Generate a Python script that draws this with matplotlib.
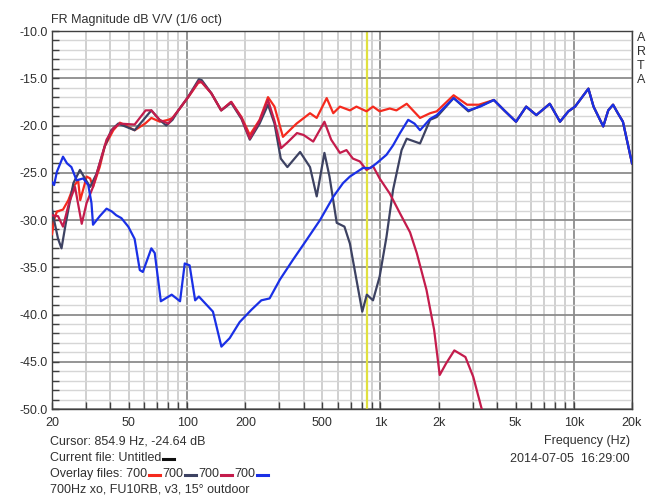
import matplotlib
matplotlib.use("Agg")
import matplotlib.pyplot as plt
from matplotlib.lines import Line2D
from matplotlib.ticker import FixedLocator, NullFormatter

plt.rcParams['font.family'] = ['Liberation Sans', 'DejaVu Sans']

# shared high frequency part (all curves meet above ~3.5k)
top_f = [3860, 4366, 5025, 5671, 6400, 7513, 8482, 9377, 10150, 11900,
         12650, 14200, 15070, 15960, 16900, 17950, 20000]
top_db = [-17.3, -18.4, -19.6, -18.0, -18.9, -17.7, -19.6, -18.5, -18.0, -16.1,
          -18.0, -20.1, -18.4, -17.8, -18.7, -19.6, -24.0]

# red: full system
red_f = [20, 20.5, 21.2, 22.8, 24.3, 25.8, 27.3, 28.0, 29.6, 30.2, 31.5, 32.6,
         35.3, 37.5, 41.5, 44.9, 48, 53.5, 60.6, 65.3, 72.3, 79.9, 84, 90.2,
         101.4, 114, 118.5, 133.5, 150, 169, 191, 211, 237, 262, 283, 313, 368,
         432, 468, 527, 570, 617, 695, 751, 847, 915, 990, 1117, 1209, 1367,
         1602, 1806, 1955, 2390, 2806, 3228]
red_db = [-31.5, -30.0, -29.1, -28.9, -27.9, -26.5, -25.8, -27.9, -26.1, -25.4,
          -25.6, -26.5, -24.4, -22.2, -20.5, -19.7, -20.0, -20.5, -19.8, -19.2,
          -19.6, -19.4, -19.2, -18.4, -17.0, -15.5, -15.4, -16.6, -18.4, -17.5,
          -19.1, -21.0, -19.4, -17.0, -18.0, -21.2, -19.8, -18.7, -19.2, -17.1,
          -18.7, -18.0, -18.4, -18.0, -18.5, -18.0, -18.5, -18.2, -18.4, -17.7,
          -19.2, -18.7, -18.5, -16.8, -17.8, -17.8]

# navy: reversed polarity sum
navy_f = [20, 20.5, 21.5, 22.4, 23.5, 24.5, 25.8, 27.9, 29.6, 31.5, 34, 37.5,
          40.5, 44, 53.5, 60, 65.3, 72, 78, 84, 90, 101, 115, 119, 133.5, 150,
          169, 191, 211, 237, 262, 283, 305, 330, 384, 432, 468, 513, 545, 594,
          651, 695, 751, 805, 850, 915, 990, 1074, 1162, 1286, 1367, 1602,
          1806, 1955, 2390, 2850, 3228]
navy_db = [-28.9, -30.0, -32.0, -33.0, -30.5, -28.5, -26.1, -24.7, -25.6, -26.5,
           -25.1, -22.2, -20.5, -19.8, -20.5, -19.3, -18.4, -19.4, -20.0, -19.4,
           -18.4, -17.0, -15.1, -15.2, -16.6, -18.4, -17.6, -19.3, -21.5, -19.8,
           -17.8, -19.8, -23.5, -24.4, -22.8, -24.4, -27.5, -22.9, -25.4, -30.3,
           -30.7, -32.5, -36.3, -39.7, -37.9, -38.5, -36.0, -31.8, -26.8, -22.6,
           -21.4, -21.9, -19.4, -19.1, -17.1, -18.5, -18.0]

# crimson: woofer
woof_f = [20, 21.5, 22.8, 24.5, 26.3, 28.5, 30.2, 32.6, 35.3, 38.3, 41.5, 44.9,
          53.5, 61, 65.3, 72, 80, 90, 101, 115, 119, 133.5, 150, 169, 191, 211,
          237, 262, 283, 306, 330, 370, 400, 449, 513, 556, 617, 667, 720, 782,
          847, 915, 990, 1117, 1262, 1422, 1541, 1730, 1894, 2025, 2182, 2410,
          2750, 3020, 3320, 3400]
woof_db = [-29.5, -29.6, -30.7, -28.2, -26.5, -30.4, -28.2, -26.5, -24.0, -21.5,
           -20.3, -19.8, -19.9, -18.4, -18.4, -19.4, -19.8, -18.4, -17.0, -15.3,
           -15.4, -16.6, -18.4, -17.5, -19.2, -21.4, -19.5, -17.3, -19.5, -22.4,
           -21.8, -20.8, -21.0, -21.7, -19.6, -21.5, -22.9, -22.6, -23.5, -23.8,
           -24.7, -24.3, -25.6, -27.2, -29.3, -31.3, -33.5, -37.4, -41.6, -46.4,
           -45.2, -43.8, -44.5, -46.6, -49.8, -50.5]

# blue: tweeter
tw_f = [20, 20.5, 21.2, 22.8, 23.9, 25.2, 26.8, 29.0, 30.8, 32.0, 32.6, 35.3,
        38.3, 40.8, 43, 45.7, 49.6, 53.5, 56.9, 59, 65.3, 68, 73.1, 83.2, 91.9,
        97.2, 103, 110, 115, 136, 150.4, 166, 187, 215, 242, 267, 302, 353,
        415, 487, 572, 640, 695, 811, 887, 954, 1074, 1162, 1262, 1391, 1500,
        1602, 1806, 1955, 2390, 2850, 3280]
tw_db = [-26.0, -26.3, -24.9, -23.3, -24.0, -24.4, -25.8, -25.6, -26.3, -28.2,
         -30.5, -29.6, -28.8, -29.1, -29.5, -29.8, -30.7, -32.0, -35.3, -35.5,
         -33.0, -33.5, -38.6, -37.9, -38.6, -34.6, -34.8, -38.5, -38.1, -39.7,
         -43.4, -42.5, -40.8, -39.5, -38.5, -38.3, -36.3, -34.2, -32.1, -30.0,
         -27.5, -26.1, -25.4, -24.5, -24.5, -24.0, -23.1, -22.1, -20.8, -19.4,
         -19.8, -20.5, -19.3, -18.9, -17.1, -18.4, -18.0]

x_ticks = [20, 50, 100, 200, 500, 1000, 2000, 5000, 10000, 20000]
x_labels = ["20", "50", "100", "200", "500", "1k", "2k", "5k", "10k", "20k"]
y_ticks = [-10, -15, -20, -25, -30, -35, -40, -45, -50]
cursor_f = 854.9

RED, NAVY, CRIMSON, BLUE = '#f52a1e', '#3d4262', '#c41c4c', '#1a30e6'

W, H = 655, 495
fig = plt.figure(figsize=(W / 100, H / 100), dpi=100)
ax = fig.add_axes([52 / W, 86 / H, 580 / W, 378 / H])
ax.set_xscale('log')
ax.set_xlim(20, 20000)
ax.set_ylim(-50, -10)

# grid
grid_f = [d * m for d in (10, 100, 1000, 10000) for m in range(1, 10)]
grid_f = [f for f in grid_f if 20 <= f <= 20000]
for f in grid_f:
    major = f in (100, 1000, 10000)
    ax.axvline(f, color='#8c8c8c' if major else '#c4c4c4',
               lw=1.3 if major else 1.1, zorder=0)
for v in range(-50, -9):
    major = v % 5 == 0
    ax.axhline(v, color='#8c8c8c' if major else '#d6d6d6',
               lw=1.3 if major else 1.0, zorder=0)

# cursor
ax.axvline(cursor_f, color='#e0e040', lw=1.6, zorder=1)

lw = 1.6
ax.plot(red_f + top_f, red_db + top_db, color=RED, lw=lw, zorder=3)
ax.plot(navy_f + top_f, navy_db + top_db, color=NAVY, lw=lw, zorder=3)
ax.plot(woof_f, woof_db, color=CRIMSON, lw=lw, zorder=4)
ax.plot(tw_f + top_f, tw_db + top_db, color=BLUE, lw=lw, zorder=5)

ax.xaxis.set_major_locator(FixedLocator(x_ticks))
ax.set_xticklabels(x_labels)
ax.xaxis.set_minor_locator(FixedLocator([f for f in grid_f if f not in x_ticks]))
ax.xaxis.set_minor_formatter(NullFormatter())
ax.set_yticks(y_ticks)
ax.set_yticklabels(["%.1f" % v for v in y_ticks])
ax.yaxis.set_minor_locator(FixedLocator(list(range(-50, -9))))
ax.tick_params(which='both', direction='in', length=5, width=1.0,
               color='#404040', labelsize=9, labelcolor='#303030')
ax.tick_params(axis='x', pad=6)
ax.tick_params(axis='y', pad=3)
for s in ax.spines.values():
    s.set_color('#404040')
    s.set_linewidth(1.0)

renderer = fig.canvas.get_renderer()


def ftext(x, y, s, **kw):
    kw.setdefault('fontsize', 9)
    kw.setdefault('color', '#303030')
    return fig.text(x / W, 1 - y / H, s, va='center', **kw)


def dash(x0, x1, y, color):
    fig.add_artist(Line2D([x0 / W, x1 / W], [1 - y / H, 1 - y / H],
                          transform=fig.transFigure, color=color, lw=2.2))


def text_then_dash(x, y, s, color):
    # write s, then a short coloured dash right after it; return next x
    t = ftext(x, y, s)
    x_end = t.get_window_extent(renderer).x1
    dash(x_end + 1.5, x_end + 12.5, y + 1, color)
    return x_end + 15


ftext(51, 20, "FR Magnitude dB V/V (1/6 oct)")
for i, ch in enumerate("ARTA"):
    ftext(641, 38 + i * 14, ch, ha='center')

ftext(50, 441, "Cursor: 854.9 Hz, -24.64 dB")
text_then_dash(50, 458, "Current file: Untitled", '#101010')
nx = text_then_dash(50, 474, "Overlay files: 700", RED)
nx = text_then_dash(nx, 474, "700", NAVY)
nx = text_then_dash(nx, 474, "700", CRIMSON)
text_then_dash(nx, 474, "700", BLUE)
ftext(50, 489, "700Hz xo, FU10RB, v3, 15° outdoor")

ftext(630, 441, "Frequency (Hz)", ha='right')
ftext(630, 459, "2014-07-05  16:29:00", ha='right')

fig.savefig("out.png", dpi=100)
